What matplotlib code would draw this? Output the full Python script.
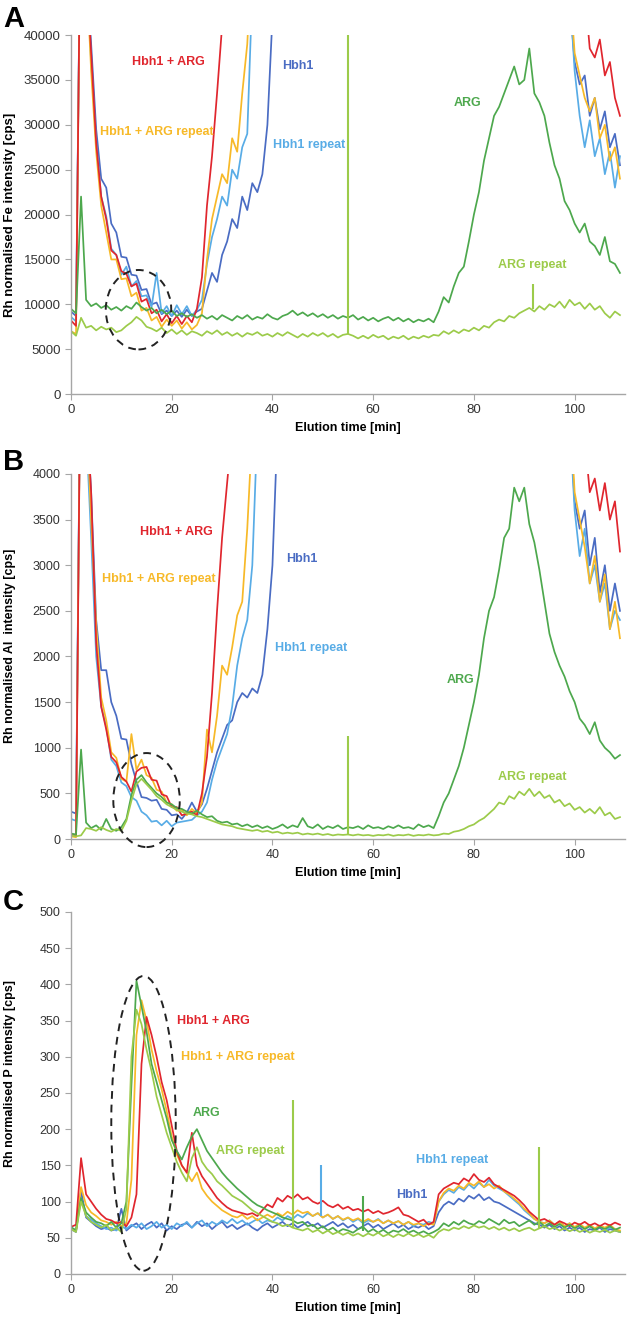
# Fe / Al / P elution profiles - three stacked panels
import numpy as np
import matplotlib
matplotlib.use('Agg')
import matplotlib.pyplot as plt
from matplotlib.patches import Ellipse

plt.rcParams['font.family'] = ['Liberation Sans', 'DejaVu Sans']

nan = np.nan
t = np.arange(0, 110)  # elution time [min]

# colours
c_hbh1 = '#4A6CC3'
c_hbh1r = '#58ACE6'
c_mix = '#E0262E'
c_mixr = '#F7B928'
c_arg = '#4DA84D'
c_argr = '#9CCB4A'

# ---------------- panel A : Fe (off-scale values = nan) ----------------
fe_hbh1 = [9200, 8700, 60000, 48000, 39000, 29500, 24000, 23000, 19000, 18000,
           15300, 15200, 13300, 13200, 11600, 11700, 10000, 10200, 8900, 9300,
           8700, 9300, 8600, 9400, 8700, 9200, 9500, 11500, 13500, 12500,
           15500, 17000, 19500, 18500, 22000, 20500, 23500, 22500, 24500, 30000,
           42000, nan, nan, nan, nan, nan, nan, nan, nan, nan,
           nan, nan, nan, nan, nan, nan, nan, nan, nan, nan,
           nan, nan, nan, nan, nan, nan, nan, nan, nan, nan,
           nan, nan, nan, nan, nan, nan, nan, nan, nan, nan,
           nan, nan, nan, nan, nan, nan, nan, nan, nan, nan,
           nan, nan, nan, nan, nan, nan, nan, nan, nan, 44000,
           37000, 34500, 35500, 31000, 33000, 29500, 31500, 27500, 29000, 25500]
fe_hbh1r = [8600, 8100, 60000, 48000, 37000, 28000, 22000, 19800, 16200, 15500,
            13300, 14200, 12000, 12600, 10900, 11000, 9700, 13500, 9000, 9800,
            8700, 9900, 8900, 9800, 8700, 9400, 10500, 14500, 17500, 19500,
            22000, 21000, 25000, 24000, 27500, 29000, 45000, nan, nan, nan,
            nan, nan, nan, nan, nan, nan, nan, nan, nan, nan,
            nan, nan, nan, nan, nan, nan, nan, nan, nan, nan,
            nan, nan, nan, nan, nan, nan, nan, nan, nan, nan,
            nan, nan, nan, nan, nan, nan, nan, nan, nan, nan,
            nan, nan, nan, nan, nan, nan, nan, nan, nan, nan,
            nan, nan, nan, nan, nan, nan, nan, nan, nan, 45000,
            36000, 31000, 27500, 30500, 26500, 28500, 24500, 27000, 23000, 26500]
fe_mixr = [7000, 6700, 60000, 48000, 36000, 27000, 21000, 18000, 15000, 15000,
           12800, 12900, 10900, 11300, 9300, 9600, 8200, 8600, 7500, 8300,
           7600, 8200, 7300, 8000, 7200, 7700, 9000, 15000, 19500, 22000,
           24500, 23500, 28500, 27000, 33500, 39000, 50000, nan, nan, nan,
           nan, nan, nan, nan, nan, nan, nan, nan, nan, nan,
           nan, nan, nan, nan, nan, nan, nan, nan, nan, nan,
           nan, nan, nan, nan, nan, nan, nan, nan, nan, nan,
           nan, nan, nan, nan, nan, nan, nan, nan, nan, nan,
           nan, nan, nan, nan, nan, nan, nan, nan, nan, nan,
           nan, nan, nan, nan, nan, nan, nan, nan, nan, 46000,
           38000, 35500, 33000, 31500, 33000, 28500, 30000, 26000, 27500, 24000]
fe_mix = [8200, 7600, 60000, 48000, 38000, 28000, 22000, 19500, 16000, 15500,
          13700, 13400, 12000, 12300, 10300, 10600, 9000, 9400, 8100, 8900,
          7900, 8700, 7800, 8700, 8000, 9500, 13000, 21000, 26500, 33500,
          41000, nan, nan, nan, nan, nan, nan, nan, nan, nan,
          nan, nan, nan, nan, nan, nan, nan, nan, nan, nan,
          nan, nan, nan, nan, nan, nan, nan, nan, nan, nan,
          nan, nan, nan, nan, nan, nan, nan, nan, nan, nan,
          nan, nan, nan, nan, nan, nan, nan, nan, nan, nan,
          nan, nan, nan, nan, nan, nan, nan, nan, nan, nan,
          nan, nan, nan, nan, nan, nan, nan, nan, nan, nan,
          nan, nan, 45000, 38500, 37500, 39500, 35500, 37000, 33000, 31000]
fe_arg = [9500, 9000, 22000, 10500, 9800, 10100, 9600, 9900, 9400, 9700,
          9300, 9800, 9500, 10200, 9700, 9300, 9600, 9000, 9400, 8900,
          9300, 8700, 9000, 8600, 8900, 8500, 8800, 8400, 8700, 8300,
          8800, 8500, 8200, 8700, 8400, 8800, 8300, 8600, 8400, 8900,
          8500, 8300, 8700, 8900, 9300, 8800, 9100, 8700, 9000, 8600,
          8900, 8500, 8800, 8400, 8700, 8500, 8800, 8300, 8600, 8200,
          8500, 8100, 8400, 8600, 8200, 8500, 8100, 8400, 8000, 8300,
          8100, 8400, 8000, 9200, 10800, 10200, 12000, 13500, 14200, 17000,
          20000, 22500, 26000, 28500, 31000, 32000, 33500, 35000, 36500, 34500,
          35000, 38500, 33500, 32500, 31000, 28000, 25500, 24000, 21500, 20500,
          19000, 18000, 19000, 17000, 16500, 15500, 17500, 14800, 14500, 13500]
fe_argr = [7000, 6500, 8500, 7400, 7600, 7100, 7500, 7200, 7400, 6900,
           7100, 7600, 8000, 8600, 8200, 7500, 7300, 7000, 7400, 6800,
           7200, 6700, 7100, 6600, 7000, 6800, 6500, 7000, 6700, 7100,
           6600, 6900, 6500, 6800, 6400, 6800, 6600, 6900, 6500, 6700,
           6400, 6800, 6500, 6900, 6600, 6300, 6700, 6400, 6800, 6500,
           6800, 6400, 6700, 6300, 6600, 6700, 6500, 6200, 6500, 6200,
           6600, 6300, 6500, 6100, 6400, 6200, 6500, 6100, 6400, 6200,
           6500, 6300, 6600, 6500, 7000, 6700, 7100, 6800, 7200, 7000,
           7400, 7100, 7600, 7400, 8000, 8300, 8100, 8700, 8500, 9000,
           9300, 9600, 9200, 9800, 9400, 10000, 9700, 10300, 9600, 10500,
           9900, 10200, 9500, 10100, 9400, 9800, 9000, 8500, 9200, 8800]
fe_spike_t = [55.0, 91.7]
fe_spike_lo = [6700, 9500]
fe_spike_hi = [41000, 12300]

# ---------------- panel B : Al ----------------
al_hbh1 = [300, 280, 6000, 4800, 3800, 2400, 1850, 1850, 1500, 1350,
           1100, 1090, 820, 630, 460, 450, 420, 430, 330, 320,
           260, 270, 220, 290, 400, 300, 380, 550, 750, 950,
           1100, 1250, 1300, 1500, 1600, 1550, 1650, 1600, 1800, 2300,
           3000, 4500, nan, nan, nan, nan, nan, nan, nan, nan,
           nan, nan, nan, nan, nan, nan, nan, nan, nan, nan,
           nan, nan, nan, nan, nan, nan, nan, nan, nan, nan,
           nan, nan, nan, nan, nan, nan, nan, nan, nan, nan,
           nan, nan, nan, nan, nan, nan, nan, nan, nan, nan,
           nan, nan, nan, nan, nan, nan, nan, nan, nan, 4600,
           3700, 3400, 3600, 3000, 3300, 2700, 3000, 2500, 2800, 2500]
al_hbh1r = [220, 200, 6000, 4500, 3300, 2000, 1450, 1230, 870, 800,
            620, 580, 460, 420, 300, 260, 190, 200, 150, 200,
            140, 180, 190, 200, 210, 260, 300, 400, 650, 850,
            1000, 1150, 1450, 1900, 2200, 2400, 3000, 4500, nan, nan,
            nan, nan, nan, nan, nan, nan, nan, nan, nan, nan,
            nan, nan, nan, nan, nan, nan, nan, nan, nan, nan,
            nan, nan, nan, nan, nan, nan, nan, nan, nan, nan,
            nan, nan, nan, nan, nan, nan, nan, nan, nan, nan,
            nan, nan, nan, nan, nan, nan, nan, nan, nan, nan,
            nan, nan, nan, nan, nan, nan, nan, nan, nan, 4600,
            3600, 3100, 3400, 2800, 3000, 2600, 2800, 2300, 2500, 2400]
al_mixr = [30, 20, 6000, 4800, 3500, 2350, 1550, 1300, 950, 890,
           660, 630, 1150, 760, 870, 700, 670, 540, 520, 400,
           380, 310, 320, 260, 330, 280, 400, 1200, 950, 1350,
           1900, 1800, 2100, 2450, 2600, 3400, 4500, nan, nan, nan,
           nan, nan, nan, nan, nan, nan, nan, nan, nan, nan,
           nan, nan, nan, nan, nan, nan, nan, nan, nan, nan,
           nan, nan, nan, nan, nan, nan, nan, nan, nan, nan,
           nan, nan, nan, nan, nan, nan, nan, nan, nan, nan,
           nan, nan, nan, nan, nan, nan, nan, nan, nan, nan,
           nan, nan, nan, nan, nan, nan, nan, nan, nan, 4800,
           3800, 3500, 3200, 2800, 3100, 2600, 2900, 2300, 2600, 2200]
al_mix = [50, 40, 6000, 4800, 3800, 2150, 1450, 1200, 900, 840,
          680, 630, 520, 740, 780, 790, 650, 640, 490, 470,
          350, 350, 260, 280, 300, 260, 500, 900, 1600, 2500,
          3300, 3900, 4500, nan, nan, nan, nan, nan, nan, nan,
          nan, nan, nan, nan, nan, nan, nan, nan, nan, nan,
          nan, nan, nan, nan, nan, nan, nan, nan, nan, nan,
          nan, nan, nan, nan, nan, nan, nan, nan, nan, nan,
          nan, nan, nan, nan, nan, nan, nan, nan, nan, nan,
          nan, nan, nan, nan, nan, nan, nan, nan, nan, nan,
          nan, nan, nan, nan, nan, nan, nan, nan, nan, nan,
          nan, nan, 4400, 3800, 3950, 3600, 3900, 3500, 3700, 3150]
al_arg = [60, 50, 980, 180, 120, 150, 100, 220, 110, 90,
          130, 220, 480, 650, 700, 620, 560, 500, 460, 400,
          380, 340, 330, 300, 280, 310, 270, 240, 250, 200,
          180, 190, 160, 170, 140, 160, 130, 150, 120, 140,
          110, 130, 160, 120, 150, 130, 230, 140, 120, 160,
          110, 140, 120, 150, 110, 130, 120, 140, 110, 150,
          120, 130, 110, 140, 120, 150, 120, 130, 110, 160,
          130, 150, 120, 250, 400, 500, 650, 800, 1000, 1250,
          1500, 1800, 2200, 2500, 2650, 2950, 3300, 3400, 3850, 3700,
          3850, 3450, 3250, 2950, 2600, 2250, 2050, 1900, 1780, 1620,
          1500, 1320, 1250, 1150, 1280, 1080, 1000, 950, 880, 920]
al_argr = [40, 30, 40, 120, 110, 90, 130, 100, 80, 110,
           90, 200, 420, 600, 660, 600, 540, 470, 430, 380,
           350, 320, 300, 280, 270, 250, 240, 220, 200, 180,
           160, 150, 140, 120, 110, 100, 90, 100, 80, 90,
           70, 80, 60, 70, 60, 70, 50, 60, 50, 60,
           45, 55, 40, 50, 45, 50, 40, 50, 40, 45,
           35, 45, 40, 50, 35, 45, 40, 50, 35, 45,
           40, 50, 40, 45, 60, 55, 80, 90, 110, 140,
           160, 200, 230, 280, 330, 400, 380, 470, 440, 520,
           480, 550, 470, 520, 450, 480, 400, 430, 360, 390,
           320, 350, 290, 330, 280, 350, 260, 290, 220, 240]
al_spike_t = [55.0]
al_spike_lo = [50]
al_spike_hi = [1130]

# ---------------- panel C : P ----------------
p_hbh1 = [62, 58, 115, 78, 72, 66, 62, 64, 60, 62,
          90, 60, 66, 70, 62, 68, 72, 64, 70, 60,
          66, 62, 68, 70, 64, 72, 66, 70, 62, 68,
          72, 64, 68, 62, 66, 70, 64, 60, 66, 70,
          64, 68, 72, 66, 70, 64, 68, 72, 66, 70,
          64, 68, 72, 66, 70, 64, 68, 62, 66, 70,
          64, 68, 62, 66, 70, 64, 68, 62, 66, 64,
          68, 62, 66, 85, 95, 100, 96, 104, 100, 108,
          104, 110, 102, 106, 100, 98, 94, 90, 86, 82,
          78, 74, 70, 68, 64, 68, 62, 66, 60, 64,
          60, 64, 58, 62, 60, 64, 58, 62, 60, 58]
p_hbh1r = [60, 62, 105, 80, 75, 70, 66, 62, 64, 60,
           66, 62, 68, 64, 70, 62, 66, 72, 64, 68,
           62, 70, 66, 72, 64, 70, 74, 66, 72, 68,
           74, 70, 76, 70, 74, 68, 72, 76, 70, 74,
           72, 78, 74, 80, 76, 82, 78, 84, 80, 84,
           78, 82, 76, 80, 74, 78, 72, 76, 70, 74,
           72, 76, 70, 74, 70, 73, 68, 72, 66, 70,
           68, 72, 70, 100, 110, 116, 112, 120, 116, 124,
           118, 126, 120, 130, 122, 118, 114, 108, 102, 96,
           88, 82, 76, 72, 70, 74, 68, 72, 66, 70,
           64, 68, 62, 66, 62, 66, 60, 64, 62, 58]
p_mixr = [62, 60, 120, 95, 85, 80, 74, 72, 68, 72,
          66, 70, 130, 330, 378, 350, 310, 280, 255, 225,
          190, 165, 150, 140, 128, 140, 118, 108, 100, 94,
          88, 84, 80, 78, 82, 76, 80, 74, 78, 82,
          78, 84, 80, 86, 82, 88, 84, 86, 80, 84,
          78, 82, 76, 80, 75, 78, 74, 77, 72, 76,
          72, 75, 70, 74, 70, 73, 68, 72, 68, 70,
          66, 70, 68, 100, 112, 118, 115, 122, 118, 126,
          122, 128, 120, 124, 118, 122, 114, 110, 104, 98,
          90, 84, 76, 72, 70, 74, 68, 72, 66, 70,
          65, 69, 64, 68, 63, 67, 64, 68, 62, 60]
p_mix = [65, 68, 160, 110, 100, 90, 82, 76, 74, 70,
         72, 66, 78, 110, 290, 355, 330, 300, 265, 240,
         205, 170, 150, 140, 195, 150, 135, 125, 115, 105,
         98, 92, 88, 86, 84, 82, 84, 80, 88, 96,
         92, 105, 100, 108, 104, 110, 103, 106, 100, 97,
         101, 95, 92, 96, 90, 93, 88, 90, 86, 89,
         84, 87, 83, 85, 88, 92, 82, 80, 76, 72,
         75, 68, 72, 110, 118, 122, 126, 124, 132, 128,
         138, 130, 127, 133, 124, 120, 116, 112, 108, 102,
         95, 86, 80, 74, 76, 72, 68, 73, 70, 66,
         71, 68, 72, 67, 70, 66, 70, 67, 71, 68]
p_arg = [65, 60, 105, 85, 78, 72, 70, 66, 72, 64,
         70, 100, 260, 405, 370, 335, 290, 265, 240, 215,
         185, 170, 158, 175, 190, 200, 185, 170, 160, 150,
         140, 132, 125, 118, 112, 106, 100, 95, 92, 88,
         85, 82, 78, 76, 74, 70, 72, 66, 68, 62,
         66, 60, 64, 58, 62, 60, 57, 62, 65, 58,
         62, 57, 61, 56, 60, 58, 62, 57, 60, 56,
         59, 55, 58, 62, 70, 66, 72, 68, 74, 70,
         68, 73, 70, 76, 72, 68, 75, 70, 72, 66,
         70, 74, 68, 72, 66, 70, 65, 69, 64, 68,
         63, 67, 62, 66, 61, 65, 62, 66, 61, 64]
p_argr = [62, 58, 100, 80, 72, 68, 64, 68, 60, 64,
          58, 90, 300, 365, 345, 310, 280, 245, 220, 195,
          175, 155, 140, 128, 160, 175, 155, 145, 138, 128,
          122, 115, 108, 104, 100, 94, 88, 84, 80, 76,
          72, 70, 66, 68, 64, 62, 60, 63, 58, 61,
          56, 60, 55, 58, 54, 57, 53, 56, 52, 56,
          53, 57, 52, 55, 51, 55, 52, 56, 52, 55,
          51, 54, 50, 58, 62, 60, 64, 62, 66, 63,
          67, 64, 66, 62, 65, 61, 64, 60, 63, 59,
          62, 64, 60, 63, 66, 62, 64, 60, 63, 59,
          62, 58, 61, 57, 60, 58, 61, 57, 60, 58]
p_spike_t = [44.0, 49.7, 58.0, 93.0]
p_spike_lo = [65, 80, 60, 62]
p_spike_hi = [240, 150, 107, 176]
p_spike_c = [c_argr, c_hbh1r, c_arg, c_argr]

fig = plt.figure(figsize=(6.31, 13.18), dpi=100)


def panel(rect, series, ymax, ystep, ylabel, ylab_y, fs):
    ax = fig.add_axes(rect)
    for y, c in series:
        ax.plot(t, y, color=c, lw=1.25)
    ax.set_xlim(0, 110)
    ax.set_ylim(0, ymax)
    ax.set_xticks(np.arange(0, 101, 20))
    ax.set_yticks(np.arange(0, ymax + 1, ystep))
    for s in ['top', 'right']:
        ax.spines[s].set_visible(False)
    for s in ['left', 'bottom']:
        ax.spines[s].set_color('#A6A6A6')
        ax.spines[s].set_linewidth(1.0)
    ax.tick_params(direction='out', length=4, color='#A6A6A6',
                   labelcolor='#333333', labelsize=fs)
    ax.set_xlabel('Elution time [min]', fontsize=9, fontweight='bold')
    ax.set_ylabel(ylabel, fontsize=fs, fontweight='bold')
    ax.yaxis.set_label_coords(-0.100, ylab_y)
    return ax


def label(ax, x, y, s, c):
    ax.text(x, y, s, color=c, fontsize=9, fontweight='bold', ha='left', va='center')


def ring(ax, cx, cy, w, h):
    ax.add_patch(Ellipse((cx, cy), w, h, fill=False, ls=(0, (4, 3)),
                         lw=1.4, ec='#222222', clip_on=False, zorder=5))


order = [c_hbh1, c_hbh1r, c_mixr, c_mix, c_arg, c_argr]

# A
axA = panel([0.1125, 0.701, 0.878, 0.2724],
            list(zip([fe_hbh1, fe_hbh1r, fe_mixr, fe_mix, fe_arg, fe_argr], order)),
            40000, 5000, 'Rh normalised Fe intensity [cps]', 0.5, 9.5)
axA.vlines(fe_spike_t, fe_spike_lo, fe_spike_hi, color=c_argr, lw=1.5)
label(axA, 12.1, 37000, 'Hbh1 + ARG', c_mix)
label(axA, 42, 36500, 'Hbh1', c_hbh1)
label(axA, 5.8, 29200, 'Hbh1 + ARG repeat', c_mixr)
label(axA, 40.1, 27800, 'Hbh1 repeat', c_hbh1r)
label(axA, 76, 32400, 'ARG', c_arg)
label(axA, 84.7, 14400, 'ARG repeat', c_argr)
ring(axA, 13.4, 9400, 13.0, 8850)

# B
axB = panel([0.1125, 0.3634, 0.878, 0.277],
            list(zip([al_hbh1, al_hbh1r, al_mixr, al_mix, al_arg, al_argr], order)),
            4000, 500, 'Rh normalised Al  intensity [cps]', 0.53, 9)
axB.vlines(al_spike_t, al_spike_lo, al_spike_hi, color=c_argr, lw=1.5)
label(axB, 13.7, 3364, 'Hbh1 + ARG', c_mix)
label(axB, 6.1, 2849, 'Hbh1 + ARG repeat', c_mixr)
label(axB, 42.8, 3068, 'Hbh1', c_hbh1)
label(axB, 40.5, 2093, 'Hbh1 repeat', c_hbh1r)
label(axB, 74.5, 1743, 'ARG', c_arg)
label(axB, 84.7, 683, 'ARG repeat', c_argr)
ring(axB, 15.0, 427, 13.2, 1030)

# C
axC = panel([0.1125, 0.0334, 0.878, 0.2747],
            list(zip([p_hbh1, p_hbh1r, p_mixr, p_mix, p_arg, p_argr], order)),
            500, 50, 'Rh normalised P intensity [cps]', 0.555, 9)
axC.vlines(p_spike_t, p_spike_lo, p_spike_hi, colors=p_spike_c, lw=1.5)
label(axC, 21, 350, 'Hbh1 + ARG', c_mix)
label(axC, 21.8, 300, 'Hbh1 + ARG repeat', c_mixr)
label(axC, 24.1, 222, 'ARG', c_arg)
label(axC, 28.8, 170, 'ARG repeat', c_argr)
label(axC, 68.5, 157, 'Hbh1 repeat', c_hbh1r)
label(axC, 64.5, 109, 'Hbh1', c_hbh1)
ring(axC, 14.4, 208, 12.8, 407)

for letter, ytop in [('A', 5), ('B', 448), ('C', 888)]:
    fig.text(3 / 631, 1 - ytop / 1318, letter, fontsize=21, fontweight='bold', va='top')

fig.savefig('out.png', dpi=100)
